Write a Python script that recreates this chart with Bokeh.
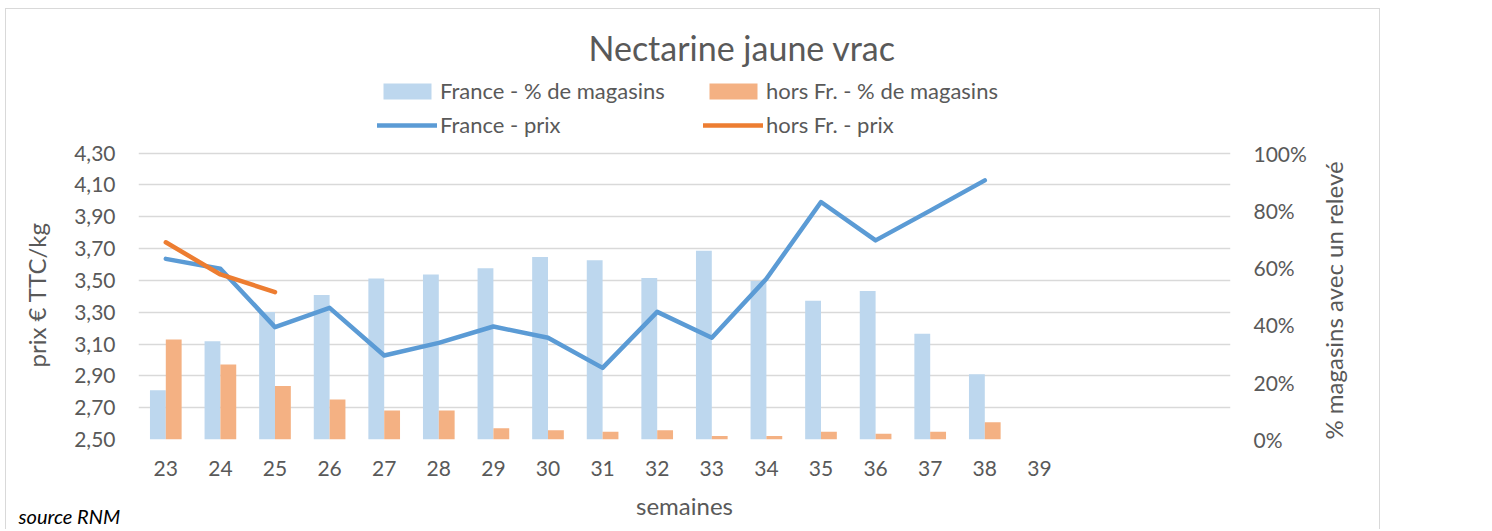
import math
from bokeh.plotting import figure
from bokeh.models import (Range1d, LinearAxis, FixedTicker, CustomJSTickFormatter,
                          NumeralTickFormatter, Legend, LegendItem, ColumnDataSource, Title)
from bokeh.transform import dodge
from bokeh.embed import file_html
from bokeh.resources import INLINE

# ---------------- data ----------------
semaines = [23, 24, 25, 26, 27, 28, 29, 30, 31, 32, 33, 34, 35, 36, 37, 38]
semaines_axe = [23, 24, 25, 26, 27, 28, 29, 30, 31, 32, 33, 34, 35, 36, 37, 38, 39]
france_pct = [0.172, 0.343, 0.445, 0.504, 0.562, 0.576, 0.598, 0.637, 0.626, 0.564,
              0.659, 0.553, 0.484, 0.518, 0.369, 0.228]
horsfr_pct = [0.349, 0.262, 0.187, 0.140, 0.101, 0.101, 0.039, 0.032, 0.027, 0.032,
              0.012, 0.012, 0.027, 0.020, 0.027, 0.060]
france_prix = [3.635, 3.573, 3.206, 3.327, 3.028, 3.107, 3.210, 3.139, 2.950, 3.302,
               3.139, 3.510, 3.992, 3.751, 3.938, 4.128]
horsfr_semaines = [23, 24, 25]
horsfr_prix = [3.739, 3.537, 3.426]
prix_ticks = [2.50, 2.70, 2.90, 3.10, 3.30, 3.50, 3.70, 3.90, 4.10, 4.30]
pct_ticks = [0.0, 0.2, 0.4, 0.6, 0.8, 1.0]

titre = "Nectarine jaune vrac"
lab_france_pct = "France - % de magasins"
lab_hors_pct = "hors Fr. - % de magasins"
lab_france_prix = "France - prix"
lab_hors_prix = "hors Fr. - prix"
label_gauche = "prix € TTC/kg"
label_droite = "% magasins avec un relevé"
label_x = "semaines"
note_source = "source RNM"

FONT = "Lato"
GREY = "#595959"

# ---------------- layout geometry (pixels) ----------------
W, H = 1375, 521
B_LEFT, B_RIGHT, B_TOP, B_BOTTOM = 132, 151, 61, 91
FRAME_H = H - B_TOP - B_BOTTOM          # plot frame height
DATA_H = 286.5                          # height of the 2,50 - 4,30 band
EXTRA = (FRAME_H - DATA_H) / DATA_H     # room left above the data band for the legend
y_lo, y_hi = prix_ticks[0], prix_ticks[-1]
p_lo, p_hi = pct_ticks[0], pct_ticks[-1]

src = ColumnDataSource(dict(semaine=semaines, france=france_pct, hors=horsfr_pct, prix=france_prix))
src_h = ColumnDataSource(dict(semaine=horsfr_semaines, prix=horsfr_prix))

p = figure(width=W, height=H, x_range=Range1d(22.5, 42.5),
           y_range=Range1d(y_lo, y_hi + (y_hi - y_lo) * EXTRA),
           output_backend="svg", toolbar_location=None,
           min_border_left=B_LEFT, min_border_right=B_RIGHT,
           min_border_top=B_TOP, min_border_bottom=B_BOTTOM)
p.extra_y_ranges = {"pct": Range1d(p_lo, p_hi + (p_hi - p_lo) * EXTRA)}
p.outline_line_color = None
p.background_fill_color = "white"
p.border_fill_color = "white"
p.styles = {"border": "1px solid #d9d9d9", "border-bottom": "none",
            "margin": "8px 0px 0px 5px"}

# title
p.title = Title(text=titre, align="left", offset=450, standoff=6, text_font=FONT,
                text_font_size="34px", text_color=GREY, text_font_style="normal")

# axes
NB = "\u00a0"
p.xaxis.ticker = FixedTicker(ticks=semaines_axe)
p.xaxis.axis_label = label_x
p.yaxis.ticker = FixedTicker(ticks=prix_ticks)
p.yaxis.formatter = CustomJSTickFormatter(code="return tick.toFixed(2).replace('.', ',');")
p.yaxis.axis_label = label_gauche + NB * 13

raxis = LinearAxis(y_range_name="pct", ticker=FixedTicker(ticks=pct_ticks),
                   formatter=NumeralTickFormatter(format="0%"))
props = raxis.properties()
if "axis_label_orientation" in props:
    raxis.axis_label_orientation = math.pi / 2
if "axis_label_align" in props:
    raxis.axis_label_align = "start"
    raxis.axis_label = label_droite
else:
    raxis.axis_label = label_droite + NB * 13
p.add_layout(raxis, "right")

for ax in [p.xaxis[0], p.yaxis[0], raxis]:
    ax.axis_line_color = None
    ax.major_tick_line_color = None
    ax.minor_tick_line_color = None
    ax.major_tick_out = 0
    ax.major_tick_in = 0
    ax.minor_tick_out = 0
    ax.minor_tick_in = 0
    ax.major_label_text_font = FONT
    ax.major_label_text_font_size = "21px"
    ax.major_label_text_color = GREY
    ax.axis_label_text_font = FONT
    ax.axis_label_text_font_size = "24px"
    ax.axis_label_text_color = GREY
    ax.axis_label_text_font_style = "normal"

p.xaxis.major_label_standoff = 21
p.xaxis.axis_label_standoff = 12
p.yaxis.major_label_standoff = 23
p.yaxis.axis_label_standoff = 20
raxis.major_label_standoff = 23
raxis.axis_label_standoff = 24

p.xgrid.grid_line_color = None
p.ygrid.grid_line_color = "#d9d9d9"
p.ygrid.grid_line_width = 1.5

# bars
r_fp = p.vbar(x=dodge("semaine", -0.145), top="france", width=0.29, source=src,
              y_range_name="pct", fill_color="#BDD7EE", line_color=None)
r_hp = p.vbar(x=dodge("semaine", 0.145), top="hors", width=0.29, source=src,
              y_range_name="pct", fill_color="#F4B183", line_color=None)
# lines
r_fl = p.line("semaine", "prix", source=src, line_color="#5B9BD5", line_width=4.5,
              line_cap="round", line_join="round")
r_hl = p.line("semaine", "prix", source=src_h, line_color="#ED7D31", line_width=4.5,
              line_cap="round", line_join="round")

# legend: two rows inside the upper (empty) part of the frame
def add_row(items, y):
    leg = Legend(items=items, location=(239, y), orientation="horizontal",
                 padding=0, margin=0, spacing=10, label_width=253,
                 glyph_width=60, glyph_height=20, label_height=20, label_standoff=3,
                 border_line_color=None, background_fill_alpha=0,
                 label_text_font=FONT, label_text_font_size="22px", label_text_color=GREY)
    p.add_layout(leg, "center")

add_row([LegendItem(label=lab_france_pct, renderers=[r_fp]),
         LegendItem(label=lab_hors_pct, renderers=[r_hp])], 335)
add_row([LegendItem(label=lab_france_prix, renderers=[r_fl]),
         LegendItem(label=lab_hors_prix, renderers=[r_hl])], 301)

# source note under the axis
p.add_layout(Title(text=note_source, align="left", offset=-120, standoff=-37,
                   vertical_align="top", text_font=FONT, text_font_size="20px",
                   text_font_style="italic", text_color="black"), "below")

open("out.html", "w").write(file_html(p, INLINE))
